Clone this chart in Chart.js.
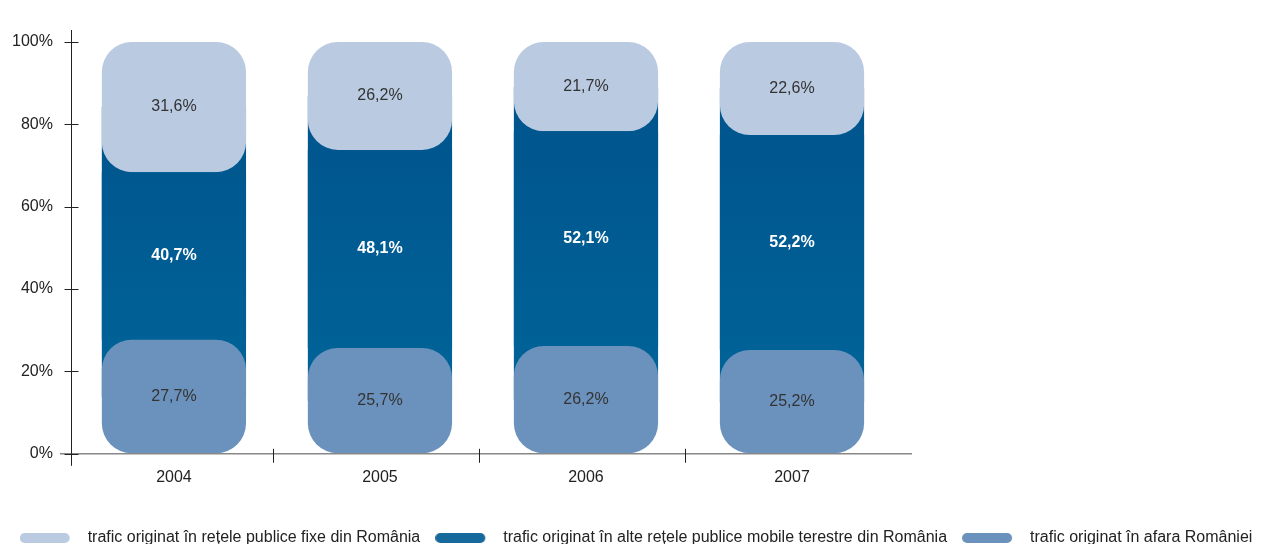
<!DOCTYPE html>
<html>
<head>
<meta charset="utf-8">
<script src="https://cdn.jsdelivr.net/npm/chart.js@4.4.1/dist/chart.umd.min.js"></script>
<style>
  html, body { margin: 0; padding: 0; background: #fff; overflow: hidden; }
</style>
</head>
<body>
<canvas id="traficChart" width="1271" height="556"></canvas>
<script>
const years = ['2004', '2005', '2006', '2007'];
const fixeRO = [31.6, 26.2, 21.7, 22.6];
const mobileRO = [40.7, 48.1, 52.1, 52.2];
const afaraRO = [27.7, 25.7, 26.2, 25.2];
const seriesNames = [
  'trafic originat în rețele publice fixe din România',
  'trafic originat în alte rețele publice mobile terestre din România',
  'trafic originat în afara României'
];

Chart.defaults.font.family = 'Arial, "Liberation Sans", sans-serif';
Chart.defaults.font.size = 16;
Chart.defaults.color = '#222';

const round = { topLeft: 30, topRight: 30, bottomLeft: 30, bottomRight: 30 };

// gradient for the dark middle part, a bit lighter toward the bottom
function darkBlue(context) {
  const { ctx, chartArea } = context.chart;
  if (!chartArea) return '#005b90';
  const g = ctx.createLinearGradient(0, chartArea.top, 0, chartArea.bottom);
  g.addColorStop(0, '#00518a');
  g.addColorStop(1, '#00679b');
  return g;
}

// pill shaped legend swatch, with some empty room before the text
function pill(color) {
  const c = document.createElement('canvas');
  c.width = 60;
  c.height = 10;
  const g = c.getContext('2d');
  g.fillStyle = color;
  g.beginPath();
  g.roundRect(0, 0, 50, 10, 5);
  g.fill();
  return c;
}

const fmt = v => v.toFixed(1).replace('.', ',') + '%';

// writes the value in the middle of each segment
const valueLabels = {
  id: 'valueLabels',
  afterDatasetsDraw(chart) {
    const ctx = chart.ctx;
    ctx.save();
    ctx.textAlign = 'center';
    ctx.textBaseline = 'middle';
    chart.data.datasets.forEach((ds, di) => {
      if (!ds.labelStyle) return;
      ctx.font = ds.labelStyle.font;
      ctx.fillStyle = ds.labelStyle.color;
      chart.getDatasetMeta(di).data.forEach((bar, i) => {
        const p = bar.getProps(['x', 'y', 'base'], true);
        ctx.fillText(fmt(ds.data[i]), p.x, (p.y + p.base) / 2);
      });
    });
    ctx.restore();
  }
};

// axis lines run a little past the plot, ticks cross the axes
const axisExtras = {
  id: 'axisExtras',
  afterDraw(chart) {
    const { ctx, chartArea: a, scales: { x, y } } = chart;
    ctx.save();
    ctx.strokeStyle = '#888';
    ctx.lineWidth = 1.5;
    ctx.beginPath();
    ctx.moveTo(a.left - 11, a.bottom);
    ctx.lineTo(a.right + 17, a.bottom);
    ctx.stroke();
    ctx.strokeStyle = '#222';
    ctx.lineWidth = 1;
    ctx.beginPath();
    const lx = Math.round(a.left) + 0.5;
    ctx.moveTo(lx, a.top - 12);
    ctx.lineTo(lx, a.bottom + 12);
    y.ticks.forEach(t => {
      const py = Math.round(y.getPixelForValue(t.value)) + 0.5;
      ctx.moveTo(lx - 7, py);
      ctx.lineTo(lx + 7, py);
    });
    for (let i = 1; i < years.length; i++) {
      const px = Math.round((x.getPixelForValue(i - 1) + x.getPixelForValue(i)) / 2) - 3.5;
      ctx.moveTo(px, a.bottom - 5);
      ctx.lineTo(px, a.bottom + 9);
    }
    ctx.stroke();
    ctx.restore();
  }
};

const ctx = document.getElementById('traficChart').getContext('2d');
new Chart(ctx, {
  type: 'bar',
  data: {
    labels: years,
    datasets: [
      {
        label: seriesNames[2],
        data: afaraRO,
        backgroundColor: '#6a92bd',
        legendColor: '#6a92bd',
        borderRadius: round,
        borderSkipped: false,
        stack: 'trafic',
        labelStyle: { font: '16px Arial, "Liberation Sans", sans-serif', color: '#333' }
      },
      {
        label: seriesNames[1],
        data: mobileRO,
        backgroundColor: darkBlue,
        legendColor: '#17699b',
        borderSkipped: false,
        stack: 'trafic',
        labelStyle: { font: 'bold 16px Arial, "Liberation Sans", sans-serif', color: '#fff' }
      },
      {
        label: seriesNames[0],
        data: fixeRO,
        backgroundColor: '#b9cae1',
        legendColor: '#b9cae1',
        borderRadius: round,
        borderSkipped: false,
        stack: 'trafic',
        labelStyle: { font: '16px Arial, "Liberation Sans", sans-serif', color: '#333' }
      },
      {
        // dark band behind the rounded corners
        label: 'fundal',
        data: years.map((_, i) => [afaraRO[i] / 2, 100 - fixeRO[i] / 2]),
        backgroundColor: darkBlue,
        stack: 'fundal',
        grouped: false,
        order: 1
      }
    ]
  },
  options: {
    responsive: false,
    animation: false,
    layout: { padding: { left: 1, right: 0, top: 42, bottom: 0 } },
    datasets: { bar: { barPercentage: 0.7, categoryPercentage: 1 } },
    plugins: {
      tooltip: { enabled: false },
      legend: {
        position: 'bottom',
        reverse: true,
        labels: {
          usePointStyle: true,
          pointStyleWidth: 60,
          boxHeight: 10,
          padding: 15,
          color: '#222',
          font: { size: 16 },
          filter: item => item.datasetIndex < 3,
          generateLabels(chart) {
            const items = Chart.defaults.plugins.legend.labels.generateLabels(chart);
            return items.map(it => {
              const ds = chart.data.datasets[it.datasetIndex];
              return { ...it, pointStyle: pill(ds.legendColor || '#005b90') };
            });
          }
        }
      }
    },
    scales: {
      x: {
        stacked: true,
        grid: { display: false, drawTicks: false },
        border: { display: false },
        ticks: { padding: 14, color: '#222' },
        afterFit(scale) { scale.height += 14; }
      },
      y: {
        stacked: true,
        min: 0,
        max: 100,
        grid: { drawOnChartArea: false, tickLength: 7, color: 'transparent' },
        border: { display: false },
        ticks: { stepSize: 20, padding: 11, color: '#222', callback: v => v + '%' }
      },
      // empty space on the right of the plot, legend still spans the full width
      spacer: {
        axis: 'y',
        position: 'right',
        grid: { display: false },
        border: { display: false },
        ticks: { display: false },
        afterFit(scale) { scale.width = 376; }
      }
    }
  },
  plugins: [valueLabels, axisExtras]
});
</script>
</body>
</html>
